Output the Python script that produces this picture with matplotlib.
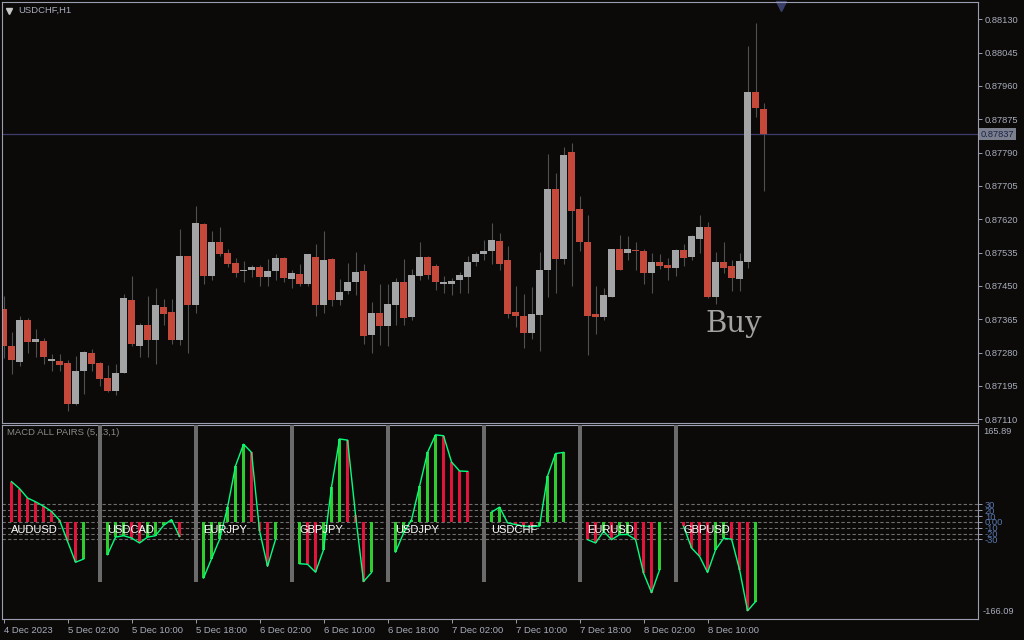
import numpy as np
import matplotlib
matplotlib.use('Agg')
import matplotlib.pyplot as plt
import matplotlib.transforms as mtransforms

plt.rcParams['font.family'] = ['Liberation Sans', 'DejaVu Sans']

# USDCHF H1 candles (bar 0 = 4 Dec 2023 18:00)
opens = [0.87391, 0.87297, 0.87257, 0.87363, 0.87308, 0.87310, 0.87259, 0.87259, 0.87254, 0.87150,
         0.87232, 0.87279, 0.87254, 0.87215, 0.87181, 0.87229, 0.87414, 0.87298, 0.87351, 0.87311,
         0.87396, 0.87384, 0.87311, 0.87526, 0.87402, 0.87608, 0.87476, 0.87562, 0.87534, 0.87509,
         0.87487, 0.87492, 0.87498, 0.87474, 0.87487, 0.87521, 0.87469, 0.87481, 0.87456, 0.87524,
         0.87402, 0.87519, 0.87413, 0.87436, 0.87459, 0.87488, 0.87326, 0.87381, 0.87349, 0.87402,
         0.87460, 0.87372, 0.87476, 0.87524, 0.87501, 0.87456, 0.87456, 0.87464, 0.87474, 0.87510,
         0.87532, 0.87538, 0.87565, 0.87516, 0.87384, 0.87374, 0.87331, 0.87377, 0.87492, 0.87697,
         0.87520, 0.87792, 0.87646, 0.87562, 0.87379, 0.87372, 0.87423, 0.87544, 0.87535, 0.87539,
         0.87539, 0.87484, 0.87511, 0.87504, 0.87497, 0.87542, 0.87525, 0.87571, 0.87600, 0.87423,
         0.87511, 0.87501, 0.87469, 0.87510, 0.87945, 0.87901]
highs = [0.87425, 0.87333, 0.87374, 0.87368, 0.87340, 0.87317, 0.87277, 0.87277, 0.87261, 0.87272,
         0.87283, 0.87289, 0.87256, 0.87249, 0.87252, 0.87430, 0.87476, 0.87356, 0.87425, 0.87445,
         0.87417, 0.87417, 0.87595, 0.87527, 0.87654, 0.87611, 0.87590, 0.87600, 0.87544, 0.87521,
         0.87514, 0.87504, 0.87504, 0.87519, 0.87532, 0.87524, 0.87491, 0.87506, 0.87532, 0.87557,
         0.87590, 0.87521, 0.87468, 0.87509, 0.87537, 0.87506, 0.87409, 0.87455, 0.87455, 0.87470,
         0.87519, 0.87493, 0.87562, 0.87527, 0.87506, 0.87476, 0.87470, 0.87486, 0.87527, 0.87537,
         0.87567, 0.87611, 0.87585, 0.87552, 0.87451, 0.87430, 0.87448, 0.87537, 0.87787, 0.87738,
         0.87804, 0.87815, 0.87680, 0.87631, 0.87450, 0.87446, 0.87544, 0.87580, 0.87578, 0.87562,
         0.87544, 0.87534, 0.87532, 0.87521, 0.87544, 0.87557, 0.87580, 0.87631, 0.87613, 0.87537,
         0.87562, 0.87516, 0.87534, 0.88062, 0.88121, 0.87917]
lows = [0.87267, 0.87226, 0.87247, 0.87278, 0.87270, 0.87252, 0.87234, 0.87234, 0.87132, 0.87147,
        0.87175, 0.87234, 0.87196, 0.87180, 0.87173, 0.87228, 0.87298, 0.87270, 0.87270, 0.87252,
        0.87351, 0.87303, 0.87300, 0.87280, 0.87380, 0.87456, 0.87466, 0.87527, 0.87499, 0.87474,
        0.87459, 0.87474, 0.87451, 0.87451, 0.87466, 0.87459, 0.87446, 0.87451, 0.87451, 0.87374,
        0.87380, 0.87400, 0.87402, 0.87430, 0.87428, 0.87303, 0.87280, 0.87300, 0.87298, 0.87351,
        0.87351, 0.87364, 0.87464, 0.87469, 0.87441, 0.87433, 0.87428, 0.87433, 0.87433, 0.87502,
        0.87516, 0.87507, 0.87492, 0.87369, 0.87346, 0.87293, 0.87316, 0.87283, 0.87423, 0.87433,
        0.87507, 0.87451, 0.87538, 0.87275, 0.87328, 0.87364, 0.87423, 0.87492, 0.87515, 0.87492,
        0.87456, 0.87431, 0.87494, 0.87466, 0.87476, 0.87502, 0.87517, 0.87533, 0.87420, 0.87405,
        0.87482, 0.87436, 0.87436, 0.87497, 0.87881, 0.87692]
closes = [0.87298, 0.87260, 0.87363, 0.87308, 0.87315, 0.87270, 0.87264, 0.87249, 0.87150, 0.87233,
          0.87282, 0.87252, 0.87214, 0.87181, 0.87228, 0.87419, 0.87303, 0.87351, 0.87311, 0.87402,
          0.87379, 0.87313, 0.87526, 0.87402, 0.87611, 0.87476, 0.87562, 0.87532, 0.87507, 0.87484,
          0.87489, 0.87498, 0.87474, 0.87488, 0.87521, 0.87471, 0.87483, 0.87456, 0.87532, 0.87402,
          0.87516, 0.87413, 0.87435, 0.87460, 0.87486, 0.87323, 0.87381, 0.87349, 0.87404, 0.87460,
          0.87369, 0.87478, 0.87524, 0.87479, 0.87461, 0.87458, 0.87463, 0.87478, 0.87511, 0.87532,
          0.87539, 0.87567, 0.87507, 0.87379, 0.87374, 0.87331, 0.87379, 0.87491, 0.87697, 0.87520,
          0.87784, 0.87642, 0.87561, 0.87374, 0.87372, 0.87427, 0.87544, 0.87492, 0.87544, 0.87538,
          0.87484, 0.87511, 0.87502, 0.87497, 0.87542, 0.87522, 0.87578, 0.87600, 0.87423, 0.87511,
          0.87497, 0.87471, 0.87514, 0.87945, 0.87905, 0.87837]

price_ticks = [0.88130, 0.88045, 0.87960, 0.87875, 0.87790, 0.87705, 0.87620,
               0.87535, 0.87450, 0.87365, 0.87280, 0.87195, 0.87110]
time_labels = ['4 Dec 2023', '5 Dec 02:00', '5 Dec 10:00', '5 Dec 18:00', '6 Dec 02:00',
               '6 Dec 10:00', '6 Dec 18:00', '7 Dec 02:00', '7 Dec 10:00', '7 Dec 18:00',
               '8 Dec 02:00', '8 Dec 10:00']

# MACD all pairs sub window
pairs = ['AUDUSD', 'USDCAD', 'EURJPY', 'GBPJPY', 'USDJPY', 'USDCHF', 'EURUSD', 'GBPUSD']
audusd = [69, 57, 41, 34.5, 27, 18, 3, -33, -69, -63.5]
usdcad = [-56, -26, -23.5, -27.5, -36, -26, -23.5, -6, 4, -25]
eurjpy = [-96, -63, -30, 25, 96, 133, 119, -15, -76, -30]
gbpjpy = [-71.5, -72.5, -86, -47.5, 60, 142, 140, 11.5, -102, -86.5]
usdjpy = [-51.5, -19, 4, 61, 119, 149, 147.5, 102.5, 87.2, 86.5]
usdchf = [16.7, 25.3, -1.5, -4.5, -7, -8, -7, 78.6, 117, 119]
eurusd = [-30.3, -36, -16, -30.3, -21.7, -21.5, -30.3, -87.6, -121, -82]
gbpusd = [-7.4, -44.6, -59, -86.5, -47.5, -28, -29.5, -82, -152, -136.3]
hist_values = [audusd, usdcad, eurjpy, gbpjpy, usdjpy, usdchf, eurusd, gbpusd]
first_up = [False, True, True, True, True, True, False, False]
levels = [30, 20, 10, 0, -10, -20, -30]
level_labels = ['30', '20', '10', '0.00', '-10', '-20', '-30']
sub_max, sub_min = 165.89, -166.09
sep_low = -103

# colours
BG = '#0c0a08'
FRAME = '#9a9eb0'
TXT = '#a8acbc'
BULL = '#a2a4a6'
BEAR = '#c4493a'
WICK = '#505052'
GREEN = '#2fcc2f'
RED = '#e0143c'
LINE = '#00ff7f'

W, H = 1024, 640


def box(l, t, r, b):
    return [l / W, 1 - b / H, (r - l) / W, (b - t) / H]


fig = plt.figure(figsize=(10.24, 6.4), dpi=100)
fig.patch.set_facecolor(BG)
ax = fig.add_axes(box(2, 2, 978, 423))
axm = fig.add_axes(box(2, 425, 978, 619))

for a in (ax, axm):
    a.set_facecolor(BG)
    for s in a.spines.values():
        s.set_color(FRAME)
        s.set_linewidth(0.8)
    a.set_xlim(-0.19, 121.8)
    a.yaxis.tick_right()
    a.tick_params(axis='y', colors=FRAME, labelcolor=TXT, length=3, width=0.7,
                  pad=2, labelsize=6.7)

# ---- candles
x = np.arange(len(opens))
o = np.array(opens)
h = np.array(highs)
l = np.array(lows)
c = np.array(closes)
up = c >= o
ax.vlines(x, l, h, color=WICK, lw=0.8, zorder=1)
body_lo = np.minimum(o, c)
body_h = np.maximum(np.abs(c - o), 0.00003)
ax.bar(x, body_h, bottom=body_lo, width=0.875, color=np.where(up, BULL, BEAR),
       linewidth=0, zorder=2)

ax.set_ylim(0.871006, 0.881742)
ax.set_yticks(price_ticks)
ax.set_yticklabels(['%.5f' % p for p in price_ticks])
ax.set_xticks([])

last = closes[-1]
ax.axhline(last, color='#3c3f6e', lw=0.9, zorder=0)
trans = mtransforms.blended_transform_factory(ax.transAxes, ax.transData)
ax.text(1.003, last, '%.5f' % last, transform=trans, va='center', ha='left',
        fontsize=6.7, color='#1a2348', clip_on=False,
        bbox=dict(boxstyle='square,pad=0.18', fc='#7c808e', ec='none'))

ax.text(0.0164, 0.98, 'USDCHF,H1', transform=ax.transAxes, va='center', ha='left',
        fontsize=6.8, color=TXT)
ax.plot(0.0075, 0.979, marker='v', ms=4.5, color='#c8c8c8', transform=ax.transAxes,
        clip_on=False, ls='none')
ax.plot(0.798, 0.991, marker='v', ms=6.5, color='#3a3f6a', transform=ax.transAxes,
        clip_on=False, ls='none')
ax.text(0.7203, 0.2169, 'Buy', transform=ax.transAxes, va='baseline', ha='left',
        fontsize=21, color='#a3a3a3', family='DejaVu Serif')

# ---- MACD all pairs
axm.set_ylim(sub_min, sub_max)
for lv in levels:
    axm.axhline(lv, color='#6e6e6e', lw=0.8, ls=(0, (3, 2)), zorder=1)
axm.set_yticks(levels)
axm.set_yticklabels(level_labels)
axm.tick_params(axis='y', labelcolor='#5a78b0')
axm.text(1.005, 1 - 2 / 194, '%.2f' % sub_max, transform=axm.transAxes, va='top',
         ha='left', fontsize=6.7, color=TXT)
axm.text(1.005, 3 / 194, '%.2f' % sub_min, transform=axm.transAxes, va='bottom',
         ha='left', fontsize=6.7, color=TXT)

for k, (name, vals, f_up) in enumerate(zip(pairs, hist_values, first_up)):
    start = 12 * k + 1
    xs = np.arange(start, start + len(vals))
    cols = [GREEN if f_up else RED]
    for i in range(1, len(vals)):
        cols.append(GREEN if vals[i] > vals[i - 1] else RED)
    axm.bar(xs, vals, width=0.375, color=cols, linewidth=0, zorder=2)
    axm.plot(xs, vals, color=LINE, lw=1.0, zorder=3)
    axm.text(start - 0.05, -13, name, color='white', fontsize=8, va='center',
             ha='left', zorder=4)
    if k > 0:
        axm.bar(12 * k, sub_max + 10 - sep_low, bottom=sep_low, width=0.5,
                color='#6b6b6b', linewidth=0, zorder=5)

axm.text(0.0052, 0.959, 'MACD ALL PAIRS (5,13,1)', transform=axm.transAxes,
         va='center', ha='left', fontsize=6.8, color='#8a8a8a', zorder=0)

axm.set_xticks(np.arange(0, 8 * len(time_labels), 8))
axm.set_xticklabels(time_labels, ha='left')
axm.tick_params(axis='x', colors=FRAME, labelcolor=TXT, length=3, width=0.7,
                pad=2, labelsize=6.8)
for t in axm.get_xticklabels():
    t.set_x(t.get_position()[0])

fig.savefig('out.png', dpi=100, facecolor=BG)
